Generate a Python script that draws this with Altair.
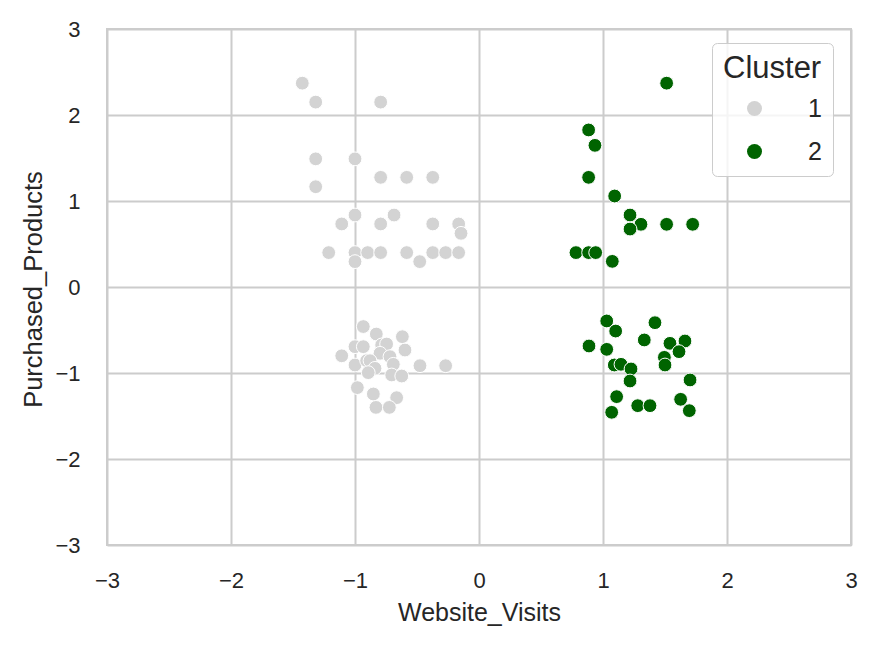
import altair as alt
import pandas as pd

# Cluster 1 (light gray)
c1_x = [-1.425, -1.317, -0.793, -1.317, -1.00, -0.793, -0.583, -0.373, -1.317,
        -1.00, -1.107, -0.793, -0.685, -0.373, -0.164, -0.145, -1.212, -1.00,
        -1.00, -0.898, -0.793, -0.583, -0.478, -0.373, -0.269, -0.164,
        -0.933, -0.828, -0.618, -1.00, -0.933, -0.785, -0.745, -0.597, -1.107,
        -0.798, -0.718, -1.00, -0.906, -0.879, -0.839, -0.691, -0.893, -0.704,
        -0.623, -0.476, -0.269, -0.981, -0.852, -0.664, -0.831, -0.723]
c1_y = [2.37, 2.15, 2.15, 1.49, 1.49, 1.275, 1.275, 1.275, 1.166,
        0.837, 0.733, 0.733, 0.837, 0.733, 0.733, 0.624, 0.40, 0.40,
        0.295, 0.40, 0.40, 0.40, 0.295, 0.40, 0.40, 0.40,
        -0.46, -0.547, -0.578, -0.694, -0.694, -0.674, -0.663, -0.733, -0.80,
        -0.771, -0.81, -0.907, -0.857, -0.857, -0.946, -0.899, -0.996, -1.023,
        -1.035, -0.915, -0.915, -1.17, -1.244, -1.287, -1.40, -1.40]

# Cluster 2 (dark green)
c2_x = [1.513, 0.884, 0.935, 0.884, 1.094, 1.218, 1.306, 1.218, 1.513, 1.723,
        0.782, 0.884, 0.941, 1.075,
        1.03, 1.102, 1.419, 0.887, 1.03, 1.333, 1.54, 1.661, 1.613, 1.495,
        1.50, 1.091, 1.145, 1.226, 1.218, 1.702, 1.11, 1.626, 1.28, 1.379,
        1.07, 1.696]
c2_y = [2.37, 1.826, 1.647, 1.275, 1.058, 0.837, 0.729, 0.674, 0.729, 0.729,
        0.40, 0.40, 0.40, 0.298,
        -0.395, -0.512, -0.415, -0.686, -0.725, -0.616, -0.655, -0.628, -0.752, -0.818,
        -0.907, -0.907, -0.899, -0.953, -1.093, -1.081, -1.275, -1.306, -1.38, -1.38,
        -1.457, -1.438]

ticks = [-3, -2, -1, 0, 1, 2, 3]

df = pd.DataFrame({
    "Website_Visits": c1_x + c2_x,
    "Purchased_Products": c1_y + c2_y,
    "Cluster": ["1"] * len(c1_x) + ["2"] * len(c2_x),
})

FONT = "Liberation Sans"
TXT = "#262626"
GRID = "#cccccc"

chart = alt.Chart(df).mark_circle(
    size=190, opacity=1, stroke="white", strokeWidth=1
).encode(
    x=alt.X("Website_Visits:Q",
            scale=alt.Scale(domain=[-3, 3], nice=False, zero=False),
            axis=alt.Axis(values=ticks, title="Website_Visits",
                          titleBaseline="alphabetic", titleY=75, titleX=372,
                          titleAlign="center", titleFontSize=25,
                          labelFlush=False,
                          labelPadding=25.5, labelFontSize=22)),
    y=alt.Y("Purchased_Products:Q",
            scale=alt.Scale(domain=[-3, 3], nice=False, zero=False),
            axis=alt.Axis(values=ticks, title="Purchased_Products",
                          titleBaseline="alphabetic", titleX=-66, titleY=260,
                          titleAlign="center", titleAngle=270, titleFontSize=25.5,
                          labelFlush=False,
                          labelPadding=27, labelFontSize=22)),
    color=alt.Color("Cluster:N",
                    scale=alt.Scale(domain=["1", "2"], range=["#d3d3d3", "#006400"]),
                    legend=alt.Legend(
                        title="Cluster", orient="none", legendX=605, legendY=14,
                        titleFontSize=31, labelFontSize=25,
                        symbolType="circle", symbolSize=225, symbolStrokeWidth=0,
                        symbolOffset=19, labelOffset=41, rowPadding=17,
                        titlePadding=11, padding=11,
                        strokeColor=GRID, fillColor="rgba(255,255,255,0.8)",
                        cornerRadius=5,
                    )),
).properties(
    width=744, height=516,
    autosize=alt.AutoSizeParams(type="none"),
    padding={"left": 99, "top": 21, "right": 17, "bottom": 94},
).configure_view(
    stroke=GRID, strokeWidth=2
).configure_axis(
    grid=True, gridColor=GRID, gridWidth=2, domain=False,
    ticks=True, tickSize=0,
    labelFont=FONT, titleFont=FONT, labelColor=TXT, titleColor=TXT,
    titleFontWeight="normal",
).configure_legend(
    titleFont=FONT, labelFont=FONT, titleColor=TXT, labelColor=TXT,
    titleFontWeight="normal",
)

chart.save("out.html", embed_options={"renderer": "svg", "actions": False})
